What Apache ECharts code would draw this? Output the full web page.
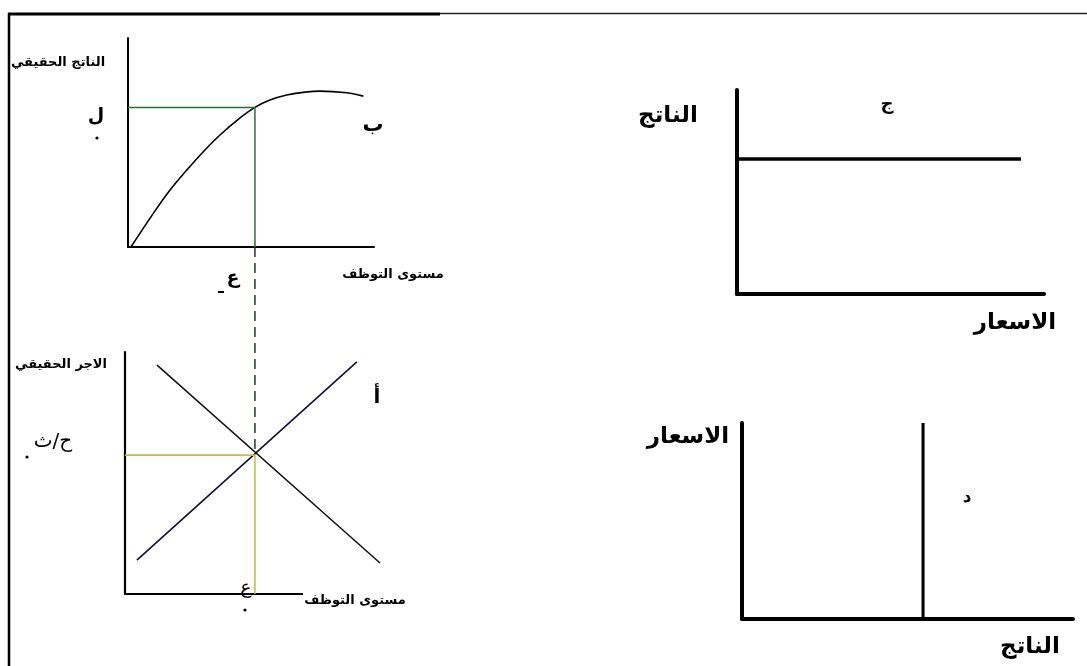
<!DOCTYPE html>
<html><head><meta charset="utf-8">
<script src="https://cdn.jsdelivr.net/npm/echarts@6/dist/echarts.min.js"></script>
<style>html,body{margin:0;padding:0;background:#fff}#c{width:1087px;height:666px}</style>
</head><body><div id="c"></div>
<script>
// Panel 1 (top-left): production function  (employment -> real output)
const prodX = [1.2, 10.3, 17.1, 23.9, 30.6, 37.4, 44.8, 51.6, 57.7, 64.5, 71.3, 78.0, 88.9, 95.7];
const prodY = [0, 16.1, 27.3, 36.8, 45.6, 53.6, 61.1, 66.8, 70.3, 72.7, 74.0, 74.6, 73.8, 72.2];
const eqEmployment1 = 51.6;   // ع
const eqOutput1 = 66.8;       // ل
const dashedBottom = -98.6;   // dashed projection down to labour market

// Panel 2 (bottom-left): labour market
const axisEnd2 = 100;         // visible length of employment axis
const supplyX = [6.7, 130.3];
const supplyY = [14.0, 95.9];
const demandX = [18.0, 143.3];
const demandY = [94.6, 12.8];
const eqEmployment2 = 73.0;   // ع
const eqWage2 = 57.4;         // ح/ث

// Panel 3 (top-right): horizontal output line
const flatX = [0, 92.5];
const flatY = [66.2, 66.2];

// Panel 4 (bottom-right): vertical line
const vertX = [54.7, 54.7];
const vertY = [0, 100];

const zip = (a, b) => a.map((v, i) => [v, b[i]]);

const AR = 'DejaVu Sans';
const labels = [
  {t:'الناتج الحقيقي', x:58, y:63, s:13, w:'bold'},
  {t:'ل', x:96, y:116, s:19, w:'bold'},
  {t:'ب', x:373, y:126, s:21, w:'bold'},
  {t:'مستوى التوظف', x:393, y:275, s:13, w:'bold'},
  {t:'ع', x:233, y:278, s:19, w:'bold'},
  {t:'الاجر الحقيقي', x:61, y:365, s:13, w:'bold'},
  {t:'ح/ث', x:53, y:442, s:20, w:'normal'},
  {t:'أ', x:377, y:398, s:20, w:'bold'},
  {t:'ع', x:246, y:588, s:19, w:'normal'},
  {t:'مستوى التوظف', x:355, y:601, s:13, w:'bold'},
  {t:'الناتج', x:668, y:116, s:23, w:'bold'},
  {t:'ج', x:887, y:104, s:18, w:'bold'},
  {t:'الاسعار', x:1015, y:323, s:23, w:'bold'},
  {t:'الاسعار', x:688, y:437, s:23, w:'bold'},
  {t:'د', x:967, y:498, s:17, w:'bold'},
  {t:'الناتج', x:1030, y:647, s:23, w:'bold'}
];
const dots = [[97,138],[27,457],[245,610]];

const chart = echarts.init(document.getElementById('c'), null, {renderer:'canvas'});

function ax(gi, w, extra) {
  return Object.assign({
    type:'value', gridIndex:gi, min:0, max:100,
    axisLine:{show:true, onZero:false, lineStyle:{color:'#000', width:w}},
    axisTick:{show:false}, axisLabel:{show:false}, splitLine:{show:false}
  }, extra || {});
}

const graphic = [];
labels.forEach(l => graphic.push({
  type:'text', x:l.x, y:l.y,
  style:{text:l.t, font: l.w + ' ' + l.s + 'px "' + AR + '"', fill:'#000', textAlign:'center', textVerticalAlign:'middle'}
}));
dots.forEach(d => graphic.push({type:'circle', shape:{cx:d[0], cy:d[1], r:1.6}, style:{fill:'#000'}}));
graphic.push({type:'rect', shape:{x:218, y:291, width:6, height:2}, style:{fill:'#000'}});
// frame
graphic.push({type:'line', shape:{x1:9, y1:13, x2:9, y2:666}, style:{stroke:'#000', lineWidth:2.5}});
graphic.push({type:'line', shape:{x1:8, y1:14, x2:440, y2:14}, style:{stroke:'#000', lineWidth:3}});
graphic.push({type:'line', shape:{x1:440, y1:13.5, x2:1087, y2:13.5}, style:{stroke:'#222', lineWidth:1.5}});

chart.setOption({
  animation:false,
  backgroundColor:'#fff',
  grid:[
    {left:128, top:38, width:246, height:209},
    {left:125, top:352, width:255, height:242},
    {left:737, top:90, width:307, height:204},
    {left:742, top:423, width:331, height:196}
  ],
  xAxis:[ax(0,2), ax(1,2.2,{max:143.3, axisLine:{show:false}}), ax(2,4), ax(3,4)],
  yAxis:[ax(0,2), ax(1,2.2), ax(2,4), ax(3,4)],
  series:[
    {type:'line', xAxisIndex:0, yAxisIndex:0, data:zip(prodX, prodY), smooth:0.4, symbol:'none',
     lineStyle:{color:'#000', width:1.6}},
    {type:'line', xAxisIndex:0, yAxisIndex:0, data:[[0,eqOutput1],[eqEmployment1,eqOutput1],[eqEmployment1,0]], symbol:'none',
     lineStyle:{color:'#2a6e35', width:1.5}},
    {type:'line', xAxisIndex:0, yAxisIndex:0, clip:false, data:[[eqEmployment1,0],[eqEmployment1,dashedBottom]], symbol:'none',
     lineStyle:{color:'#1d3a22', width:1.5, type:[10,6]}},
    {type:'line', xAxisIndex:1, yAxisIndex:1, data:[[0,0],[axisEnd2,0]], symbol:'none',
     lineStyle:{color:'#000', width:2.2}},
    {type:'line', xAxisIndex:1, yAxisIndex:1, data:zip(supplyX, supplyY), symbol:'none',
     lineStyle:{color:'#111133', width:1.6}},
    {type:'line', xAxisIndex:1, yAxisIndex:1, data:zip(demandX, demandY), symbol:'none',
     lineStyle:{color:'#111', width:1.5}},
    {type:'line', xAxisIndex:1, yAxisIndex:1, data:[[0,eqWage2],[eqEmployment2,eqWage2],[eqEmployment2,0]], symbol:'none',
     lineStyle:{color:'#c2c040', width:1.6}},
    {type:'line', xAxisIndex:2, yAxisIndex:2, data:zip(flatX, flatY), symbol:'none',
     lineStyle:{color:'#000', width:3.5}},
    {type:'line', xAxisIndex:3, yAxisIndex:3, data:zip(vertX, vertY), symbol:'none',
     lineStyle:{color:'#000', width:3}}
  ],
  graphic: graphic
});
</script></body></html>
